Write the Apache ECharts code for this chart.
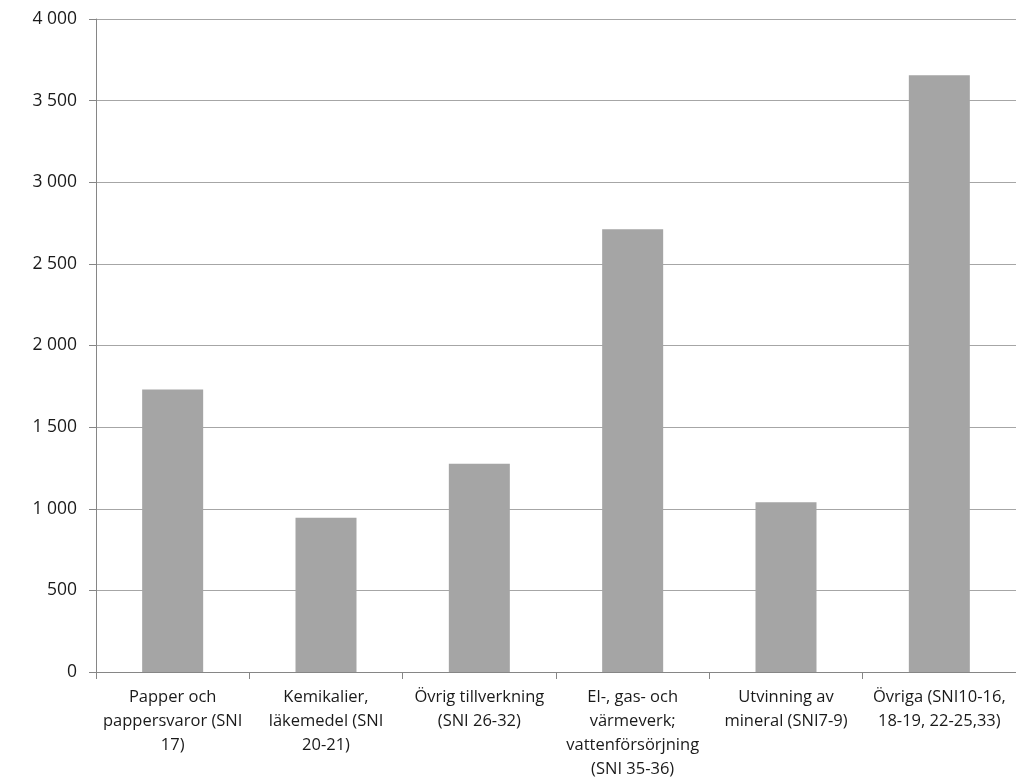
<!DOCTYPE html>
<html><head><meta charset="utf-8">
<script src="https://cdn.jsdelivr.net/npm/echarts@6/dist/echarts.min.js"></script>
<style>html,body{margin:0;padding:0;background:#fff}#c{width:1016px;height:783px}</style>
</head><body><div id="c"></div>
<script>
const categories = [
  "Papper och\npappersvaror (SNI\n17)",
  "Kemikalier,\nläkemedel (SNI\n20-21)",
  "Övrig tillverkning\n(SNI 26-32)",
  "El-, gas- och\nvärmeverk;\nvattenförsörjning\n(SNI 35-36)",
  "Utvinning av\nmineral (SNI7-9)",
  "Övriga (SNI10-16,\n18-19, 22-25,33)"
];
const values = [1730, 945, 1275, 2712, 1040, 3655];
const yTicks = [0, 500, 1000, 1500, 2000, 2500, 3000, 3500, 4000];

const chart = echarts.init(document.getElementById('c'));
chart.setOption({
  animation: false,
  grid: {left: 96, right: -2, top: 19, bottom: 111},
  xAxis: {
    type: 'category',
    data: categories,
    axisLine: {lineStyle: {color: '#868686', width: 1}},
    axisTick: {show: true, length: 7, lineStyle: {color: '#868686'}},
    axisLabel: {color: '#1a1a1a', fontFamily: 'Open Sans', fontSize: 16.5, lineHeight: 24, margin: 13, interval: 0}
  },
  yAxis: {
    type: 'value',
    min: yTicks[0], max: yTicks[yTicks.length-1], interval: 500,
    axisLine: {show: true, lineStyle: {color: '#868686'}},
    axisTick: {show: true, length: 7, lineStyle: {color: '#868686'}},
    splitLine: {lineStyle: {color: '#a6a6a6'}},
    axisLabel: {color: '#1a1a1a', fontFamily: 'Open Sans', fontSize: 17.5, margin: 19,
      formatter: v => String(v).replace(/\B(?=(\d{3})+(?!\d))/g, ' ')}
  },
  series: [{
    type: 'bar', data: values, barWidth: 61,
    itemStyle: {color: '#a5a5a5'}
  }]
});
</script></body></html>
